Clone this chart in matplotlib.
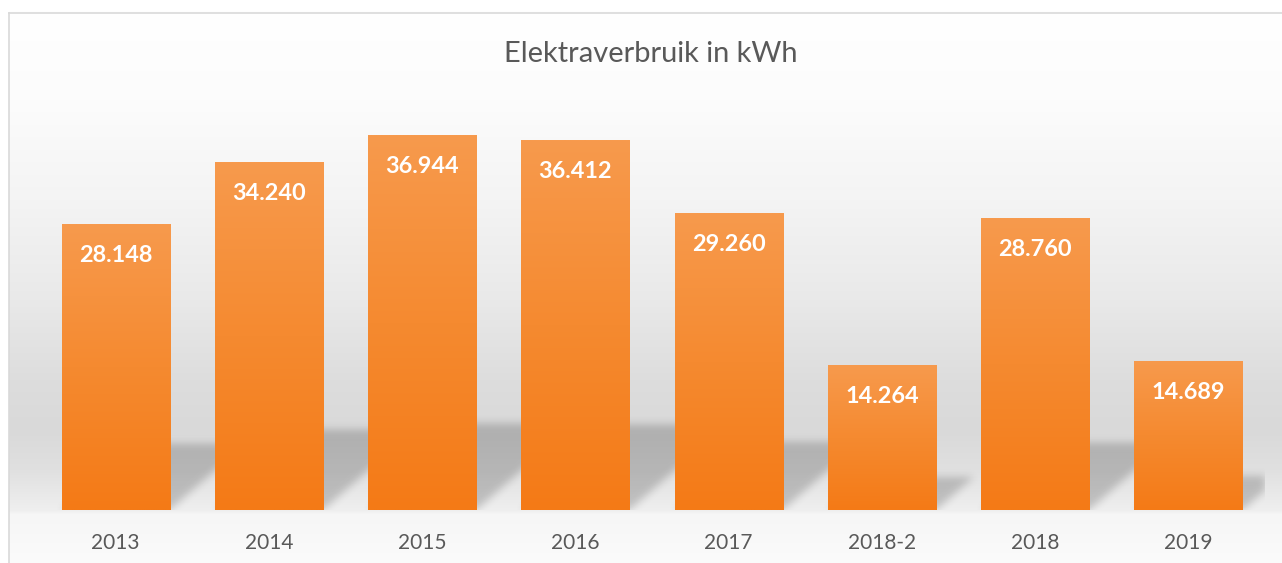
import numpy as np
import matplotlib
matplotlib.use("Agg")
import matplotlib.pyplot as plt
from matplotlib.colors import LinearSegmentedColormap

# ---- data ----
categories = ["2013", "2014", "2015", "2016", "2017", "2018-2", "2018", "2019"]
values = [28148, 34240, 36944, 36412, 29260, 14264, 28760, 14689]
value_labels = ["28.148", "34.240", "36.944", "36.412", "29.260", "14.264", "28.760", "14.689"]
title = "Elektraverbruik in kWh"
y_max = 40000

W, H = 1282, 563
DPI = 100
plt.rcParams['font.family'] = ['Lato', 'DejaVu Sans']

fig = plt.figure(figsize=(W / DPI, H / DPI), dpi=DPI)
fig.patch.set_facecolor('white')

# ---- background (chart area gradient) ----
bg = fig.add_axes([0, 0, 1, 1], zorder=0)
bg.axis('off')
ys = np.arange(H) + 0.5
stop_y = [12, 100, 200, 300, 380, 430, 470, 508, 511, 514, 563]
stop_v = [255, 252, 244, 233, 221, 217, 224, 238, 239, 246, 251]
g = np.interp(ys, stop_y, stop_v) / 255.0
g[ys < 12.5] = 1.0
grad_img = np.stack([g, g, g], axis=-1)[:, None, :]
bg.imshow(grad_img, extent=(8.5, W, H, 0), aspect='auto', interpolation='bilinear')
bg.plot([8.5, 8.5], [H, 12.5], color='#d9d9d9', lw=1.2)
bg.plot([8.5, W], [12.5, 12.5], color='#d9d9d9', lw=1.2)
bg.set_xlim(0, W)
bg.set_ylim(H, 0)

# ---- plot area ----
px_left, px_right, px_bottom, px_top = 39, 1265, 510, 104
ax = fig.add_axes([px_left / W, (H - px_bottom) / H,
                   (px_right - px_left) / W, (px_bottom - px_top) / H], zorder=1)
ax.patch.set_alpha(0)
for s in ax.spines.values():
    s.set_visible(False)

x = np.arange(len(categories))
bar_w = 0.705
bars = ax.bar(x, values, width=bar_w, color='none', edgecolor='none', zorder=3)

# shadows (perspective, blurred)
nx = px_right - px_left
ny = 140
cat_px = nx / len(categories)
val_px = (px_bottom - px_top) / y_max
gx = -0.5 + (np.arange(nx) + 0.5) / nx * len(categories)
gy = np.arange(ny) + 0.5
GX, GY = np.meshgrid(gx, gy)
mask = np.zeros_like(GX)
for b in bars:
    hb = b.get_height() * val_px
    hs = 0.23 * hb
    shift = 1.15 * GY / cat_px
    L = b.get_x()
    R = b.get_x() + b.get_width()
    inside = (GY <= hs) & (GX >= L + shift) & (GX <= R + shift)
    mask[inside] = 1.0

def blur(a, sigma):
    r = int(3 * sigma)
    k = np.exp(-0.5 * (np.arange(-r, r + 1) / sigma) ** 2)
    k /= k.sum()
    a = np.apply_along_axis(lambda m: np.convolve(m, k, mode='same'), 1, a)
    a = np.apply_along_axis(lambda m: np.convolve(m, k, mode='same'), 0, a)
    return a

mask = blur(mask, 4.0)
shadow = np.zeros((ny, nx, 4))
shadow[..., 3] = 0.19 * mask
ax.imshow(shadow, extent=(-0.5, len(categories) - 0.5, 0, ny / val_px),
          origin='lower', aspect='auto', zorder=2, interpolation='bilinear')

# gradient bars
cmap = LinearSegmentedColormap.from_list('og', ['#F47A16', '#F58A30', '#F79A4D'])
grad = np.linspace(0, 1, 256).reshape(-1, 1)
for b in bars:
    x0 = b.get_x()
    x1 = x0 + b.get_width()
    h = b.get_height()
    im = ax.imshow(grad, extent=(x0, x1, 0, h), origin='lower', cmap=cmap,
                   aspect='auto', zorder=3, interpolation='bilinear')
    im.set_clip_path(b)

# value labels
for b, lab in zip(bars, value_labels):
    ax.annotate(lab, (b.get_x() + b.get_width() / 2, b.get_height()),
                xytext=(0, -27.1), textcoords='offset points',
                ha='center', va='baseline', color='white',
                fontsize=16.9, fontweight='bold', zorder=5)

ax.set_xlim(-0.5, len(categories) - 0.5)
ax.set_ylim(0, y_max)
ax.set_yticks([])
ax.set_xticks(x, categories)
ax.tick_params(axis='x', length=0, pad=28, labelsize=15, labelcolor='#595959')
for t in ax.get_xticklabels():
    t.set_va('baseline')

fig.text(651 / W, 1 - 62.5 / H, title, ha='center', va='baseline',
         fontsize=20.9, color='#595959')

fig.savefig('out.png', dpi=DPI)
